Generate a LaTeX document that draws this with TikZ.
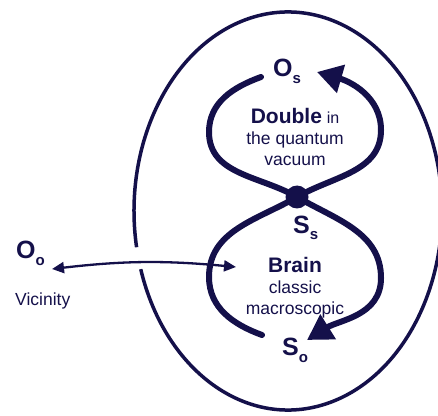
\documentclass[tikz,border=0pt]{standalone}
\usepackage{fontspec}
\setmainfont{Liberation Sans}
\usetikzlibrary{arrows.meta}
\definecolor{ink}{RGB}{20,16,74}
\newcommand{\idx}[1]{\raisebox{-7pt}{\fontsize{15}{15}\selectfont #1}}

\begin{document}
\begin{tikzpicture}[x=1pt,y=1pt,
  every node/.style={align=center, text=ink, inner sep=0pt},
  loop/.style={draw=ink, line width=6pt, line cap=round},
  big/.style={font=\fontsize{25}{25}\selectfont\bfseries},
  txt/.style={font=\fontsize{17.5}{21}\selectfont}]
  \useasboundingbox (0,0) rectangle (438,415);
  % outer border, left open where the arrow passes
  \draw[ink, line width=3.5pt] (288,204) ++(197:154pt and 199pt)
    arc[start angle=197, end angle=550.5, x radius=154pt, y radius=199pt];
  % figure eight
  \node[circle, fill=ink, minimum size=23pt] (X) at (297,218) {};
  \coordinate (ul) at (261,338);
  \coordinate (ll) at (262,80);
  \coordinate (ut) at (317,343);
  \coordinate (lt) at (307,75);
  \draw[loop, -{Triangle[length=25pt,width=28pt]}] (ul) to[out=200,in=90] (209,283)
    to[out=-90,in=150] (X.center) to[out=-30,in=90] (381,137) to[out=-90,in=32] (lt);
  \draw[loop, -{Triangle[length=25pt,width=28pt]}] (ll) to[out=160,in=-90] (209,138)
    to[out=90,in=-150] (X.center) to[out=30,in=-90] (381,285) to[out=90,in=-16] (ut);
  % labels
  \node[big, anchor=base west] (Os) at (273,338) {O\idx{s}};
  \node[big, anchor=base west] (Ss) at (293,182) {S\idx{s}};
  \node[big, anchor=base west] (So) at (282,60) {S\idx{o}};
  \node[big, anchor=base west] (Oo) at (16,157) {O\idx{o}};
  \node[txt, anchor=base west] (vicinity) at (15,110) {Vicinity};
  \node[txt, anchor=north] (double) at (295,307)
    {{\fontsize{21}{21}\selectfont\bfseries Double} {\fontsize{16}{16}\selectfont in}\\the quantum\\vacuum};
  \node[txt, anchor=north] (brain) at (295,158)
    {{\fontsize{21}{21}\selectfont\bfseries Brain}\\classic\\macroscopic};
  % link between vicinity and brain
  \coordinate (vic) at (52,146);
  \coordinate (brn) at (236,148);
  \draw[ink, line width=2.3pt, {Triangle[length=12pt,width=11pt]}-{Triangle[length=12pt,width=11pt]}]
    (vic) to[bend left=6] (brn);
\end{tikzpicture}
\end{document}
